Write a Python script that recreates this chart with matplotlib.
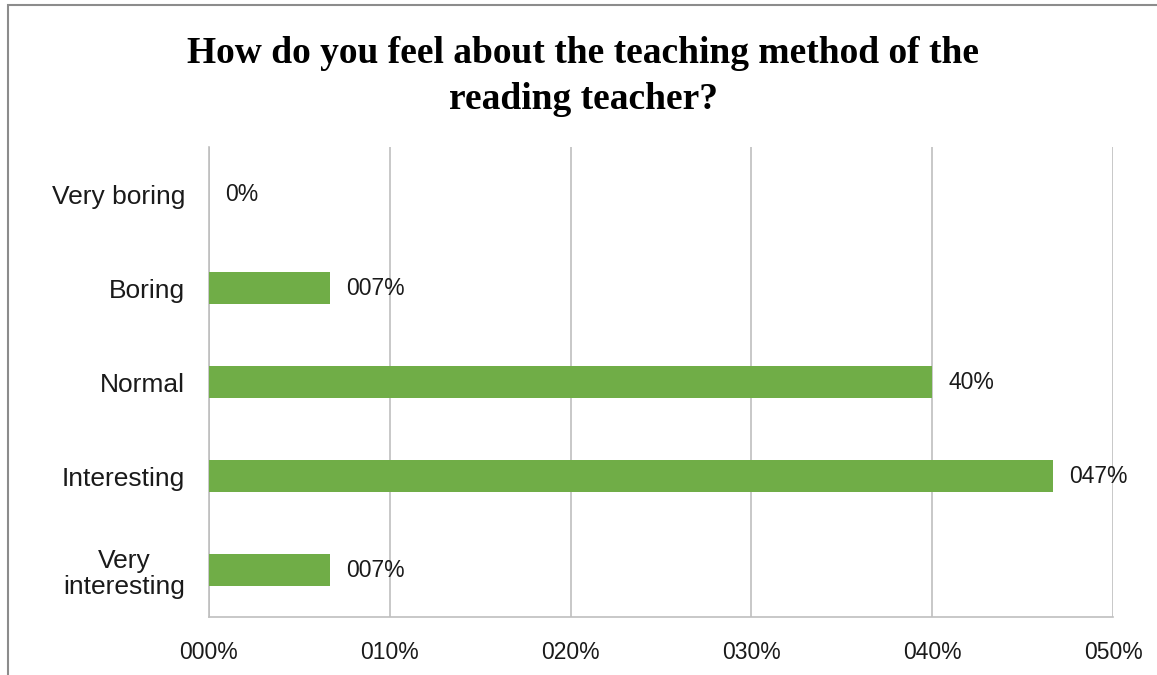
import matplotlib.pyplot as plt
from matplotlib.patches import Rectangle

# survey answers, top to bottom as drawn
CATEGORIES = ['Very boring', 'Boring', 'Normal', 'Interesting', 'Very\ninteresting']
SHARES = [0.0, 6.67, 40.0, 46.67, 6.67]
BAR_LABELS = ['0%', '007%', '40%', '047%', '007%']
X_TICKS = [0, 10, 20, 30, 40, 50]
X_TICK_LABELS = ['000%', '010%', '020%', '030%', '040%', '050%']

BAR_COLOR = '#70AD47'
GRID_COLOR = '#BFBFBF'
SANS = ['Liberation Sans', 'DejaVu Sans']


def draw_chart():
    fig = plt.figure(figsize=(11.57, 6.75), dpi=100)
    ax = fig.add_axes([0.1806, 0.0859, 0.962 - 0.1806, 0.7822 - 0.0859])

    y_pos = list(range(len(CATEGORIES)))
    ax.barh(y_pos, SHARES, height=0.35, color=BAR_COLOR, zorder=3)
    ax.set_ylim(len(CATEGORIES) - 0.5, -0.5)
    ax.set_xlim(X_TICKS[0], X_TICKS[-1])

    # value labels just right of each bar end
    for y, v, lab in zip(y_pos, SHARES, BAR_LABELS):
        ax.annotate(lab, xy=(v, y), xytext=(12, 0), textcoords='offset points',
                    ha='left', va='center', fontsize=16.5, family=SANS,
                    color='#1a1a1a')

    ax.set_yticks(y_pos)
    ax.set_yticklabels(CATEGORIES, fontsize=19, family=SANS, color='#1a1a1a',
                       linespacing=1.15)
    for lab in ax.get_yticklabels():
        lab.set_multialignment('center')
    ax.set_xticks(X_TICKS)
    ax.set_xticklabels(X_TICK_LABELS, fontsize=16.5, family=SANS, color='#1a1a1a')
    ax.tick_params(axis='both', length=0)
    ax.tick_params(axis='x', pad=17)
    ax.tick_params(axis='y', pad=17)

    ax.grid(axis='x', color=GRID_COLOR, linewidth=1.2, zorder=0)
    for side in ['top', 'right']:
        ax.spines[side].set_visible(False)
    for side in ['left', 'bottom']:
        ax.spines[side].set_color(GRID_COLOR)
        ax.spines[side].set_linewidth(1.2)

    fig.text(0.504, 0.887, 'How do you feel about the teaching method of the\nreading teacher?',
             ha='center', va='center', fontsize=27, fontweight='bold',
             family=['Liberation Serif', 'DejaVu Serif'], linespacing=1.4)

    # outer chart frame, cut off on the right and bottom
    fig.patches.append(Rectangle((8 / 1157, -0.1), 1.2, 1.1 - 5 / 675,
                                 transform=fig.transFigure, fill=False,
                                 edgecolor='#8c8c8c', linewidth=1.5))

    fig.savefig('out.png', dpi=100)


if __name__ == '__main__':
    draw_chart()
